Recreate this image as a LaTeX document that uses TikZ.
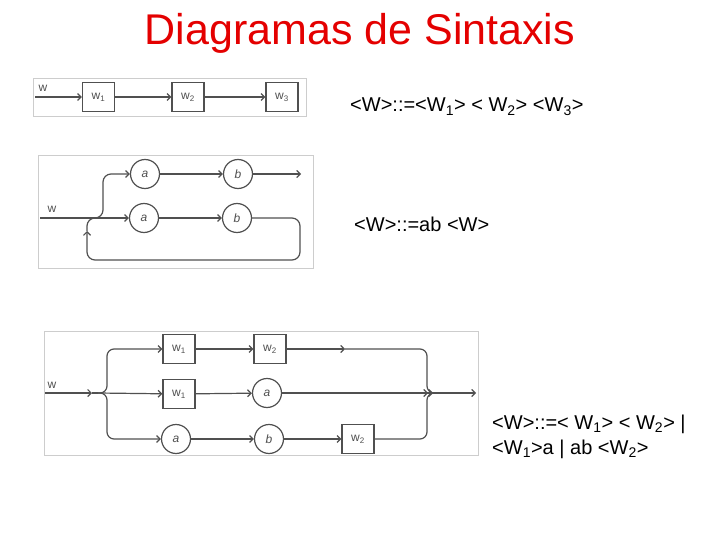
\documentclass[tikz,border=0pt]{standalone}
\usepackage{fontspec}
\setmainfont{Liberation Sans}
\usetikzlibrary{arrows.meta,positioning,calc}
\definecolor{ttl}{RGB}{228,0,0}
\definecolor{ink}{RGB}{80,80,80}
\definecolor{rim}{RGB}{205,205,205}
\newcommand\ftitle{\fontsize{43}{50}\selectfont}
\newcommand\fbnf{\fontsize{20}{25}\selectfont}
\newcommand\fsym{\fontsize{12}{14}\selectfont}
\tikzset{
  frm/.style={draw=rim,line width=0.8pt},
  sym/.style={draw=ink,fill=white,line width=1.2pt,minimum width=32pt,minimum height=29pt,inner sep=0pt,font=\fsym,text=ink},
  trm/.style={draw=ink,circle,fill=white,line width=1.2pt,minimum size=29pt,inner sep=0pt,font=\fsym\itshape,text=ink},
  arr/.style={-{Straight Barb[length=3.5pt,width=7pt]},draw=ink,line width=1.2pt},
  arrr/.style={-{Straight Barb[length=3.5pt,width=7pt]Straight Barb[length=3.5pt,width=7pt]},draw=ink,line width=1.2pt},
  ln/.style={draw=ink,line width=1.2pt},
  lbl/.style={font=\fsym,text=ink,inner sep=0pt},
  bnf/.style={font=\fbnf,anchor=base west,inner sep=0pt}
}
\begin{document}
\begin{tikzpicture}[x=1pt,y=-1pt]
\useasboundingbox (0,0) rectangle (720,540);
\node[font=\ftitle,text=ttl,anchor=base] (t) at (360,45) {Diagramas de Sintaxis};
\draw[frm] (33,78) rectangle (306,116);
\node[lbl] (lw1) at (43,88) {w};
\coordinate (i1) at (35,97);
\node[sym] (w1) at (98.5,97) {w\textsubscript{1}};
\node[sym] (w2) at (188,97) {w\textsubscript{2}};
\node[sym] (w3) at (282,97) {w\textsubscript{3}};
\draw[arr] (i1) -- (w1);
\draw[arr] (w1) -- (w2);
\draw[arr] (w2) -- (w3);
\node[bnf] (f1) at (350,112) {<W>::=<W\textsubscript{1}> < W\textsubscript{2}> <W\textsubscript{3}>};
\draw[frm] (38,155) rectangle (313,268);
\node[lbl] (lw2) at (52,209) {w};
\node[trm] (a1) at (145,174) {a};
\node[trm] (b1) at (238,174) {b};
\node[trm] (a2) at (144,218) {a};
\node[trm] (b2) at (237,218) {b};
\coordinate (i2) at (40,218);
\coordinate (x2) at (92,218);
\coordinate (k2) at (103,174);
\coordinate (o2) at (301,174);
\coordinate (l1) at (300,260);
\coordinate (l2) at (87,260);
\coordinate (l3) at (87,231);
\coordinate (l4) at (97,218);
\draw[arr] (i2) -- (a2);
\draw[arr,rounded corners=8pt] (x2) -| (k2) -- (a1);
\draw[arr] (a1) -- (b1);
\draw[arr] (b1) -- (o2);
\draw[arr] (a2) -- (b2);
\draw[arr,rounded corners=8pt] (b2) -| (l1) -- (l2) -- (l3);
\draw[ln,rounded corners=8pt] (l3) |- (l4);
\node[bnf] (f2) at (354,231) {<W>::=ab <W>};
\draw[frm] (44,331) rectangle (478,455);
\node[lbl] (lw3) at (52,385) {w};
\node[sym] (p1) at (179,349) {w\textsubscript{1}};
\node[sym] (p2) at (270,349) {w\textsubscript{2}};
\node[sym] (q1) at (179,394) {w\textsubscript{1}};
\node[trm] (qa) at (267,393) {a};
\node[trm] (ra) at (176,439) {a};
\node[trm] (rb) at (269,439) {b};
\node[sym] (r2) at (358,439) {w\textsubscript{2}};
\coordinate (i3) at (45,393);
\coordinate (c3) at (92,393);
\coordinate (x3) at (98,393);
\coordinate (u3) at (107,349);
\coordinate (d3) at (107,439);
\coordinate (m3) at (345,349);
\coordinate (j3) at (427,393);
\coordinate (y3) at (433,393);
\coordinate (o3) at (476,393);
\draw[arr] (i3) -- (c3);
\draw[ln] (c3) -- (x3);
\draw[arr,rounded corners=7pt] (x3) -| (u3) -- (p1);
\draw[arr] (x3) -- (q1);
\draw[arr,rounded corners=7pt] (x3) -| (d3) -- (ra);
\draw[arr] (p1) -- (p2);
\draw[arr] (p2) -- (m3);
\draw[ln,rounded corners=7pt] (m3) -| (j3) -- (y3);
\draw[arr] (q1) -- (qa);
\draw[arrr] (qa) -- (y3);
\draw[arr] (y3) -- (o3);
\draw[arr] (ra) -- (rb);
\draw[arr] (rb) -- (r2);
\draw[ln,rounded corners=7pt] (r2) -| (j3) -- (y3);
\node[bnf] (f3) at (492,429) {<W>::=< W\textsubscript{1}> < W\textsubscript{2}> |};
\node[bnf] (f4) at (492,454) {<W\textsubscript{1}>a | ab <W\textsubscript{2}>};
\end{tikzpicture}
\end{document}
